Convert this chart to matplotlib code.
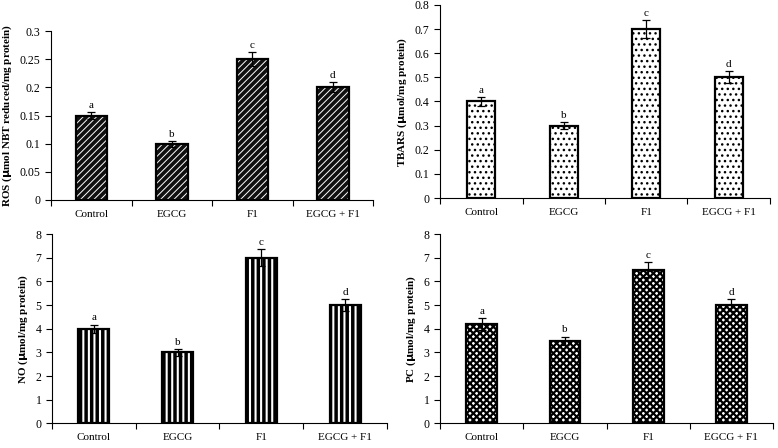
import numpy as np
import matplotlib.pyplot as plt

plt.rcParams['font.family'] = ['Liberation Serif', 'DejaVu Serif']

groups = ["Control", "EGCG", "F1", "EGCG + F1"]
letters = ["a", "b", "c", "d"]

ros = [0.15, 0.10, 0.25, 0.20]
ros_err = [0.006, 0.005, 0.012, 0.009]
tbars = [0.40, 0.30, 0.70, 0.50]
tbars_err = [0.018, 0.014, 0.036, 0.025]
no = [4.0, 3.0, 7.0, 5.0]
no_err = [0.17, 0.14, 0.35, 0.25]
pc = [4.2, 3.5, 6.5, 5.0]
pc_err = [0.25, 0.17, 0.30, 0.25]

fig = plt.figure(figsize=(7.78, 4.48), dpi=100)

panels = [
    # rect, values, errors, ylabel, ylim, step, face, hatch, hatch colour, hatch lw, width
    ([0.0656, 0.5536, 0.414, 0.377], ros, ros_err,
     r"ROS ($\mathbf{\mu}$mol NBT reduced/mg protein)", 0.3, 0.05,
     "#111111", "/////", "white", 0.7, 0.39),
    ([0.5656, 0.558, 0.424, 0.431], tbars, tbars_err,
     r"TBARS ($\mathbf{\mu}$mol/mg protein)", 0.8, 0.1,
     "white", "...", "black", 1.0, 0.34),
    ([0.0668, 0.055, 0.4306, 0.4226], no, no_err,
     r"NO ($\mathbf{\mu}$mol/mg protein)", 8, 1,
     "white", "|||", "black", 2.5, 0.37),
    ([0.5656, 0.055, 0.428, 0.4226], pc, pc_err,
     r"PC ($\mathbf{\mu}$mol/mg protein)", 8, 1,
     "white", "xxxxx", "black", 1.6, 0.37),
]

x = np.arange(len(groups))
for rect, vals, errs, ylab, ymax, step, face, hatch, hcol, hlw, w in panels:
    ax = fig.add_axes(rect)
    plt.rcParams['hatch.linewidth'] = hlw
    ax.bar(x, vals, width=w, color=face, edgecolor=hcol, hatch=hatch, linewidth=0, zorder=2)
    ax.bar(x, vals, width=w, fill=False, edgecolor="black", linewidth=1.6, zorder=3)
    ax.errorbar(x, vals, yerr=errs, fmt="none", ecolor="black", elinewidth=0.9,
                capsize=3, capthick=0.9, zorder=4)
    for xi, v, e, lt in zip(x, vals, errs, letters):
        ax.text(xi, v + e + ymax * 0.012, lt, ha="center", va="bottom", fontsize=8)
    ax.set_xlim(-0.5, len(groups) - 0.5)
    ax.set_ylim(0, ymax)
    ticks = np.arange(0, ymax + step / 2, step)
    ax.set_yticks(ticks)
    ax.set_yticklabels([f"{t:g}" for t in ticks])
    ax.set_xticks(np.arange(-0.5, len(groups)), minor=False)
    ax.set_xticklabels([])
    ax.set_xticks(x, minor=True)
    ax.set_xticklabels(groups, minor=True)
    ax.tick_params(axis="x", which="minor", length=0, pad=7, labelsize=8)
    ax.tick_params(axis="x", which="major", length=4, width=0.8, direction="out")
    ax.tick_params(axis="y", length=4, width=0.8, labelsize=8.5, direction="out")
    ax.spines["top"].set_visible(False)
    ax.spines["right"].set_visible(False)
    ax.spines["left"].set_linewidth(0.8)
    ax.spines["bottom"].set_linewidth(0.8)
    ax.set_ylabel(ylab, fontsize=8, fontweight="bold")

fig.savefig("out.png", dpi=100)
